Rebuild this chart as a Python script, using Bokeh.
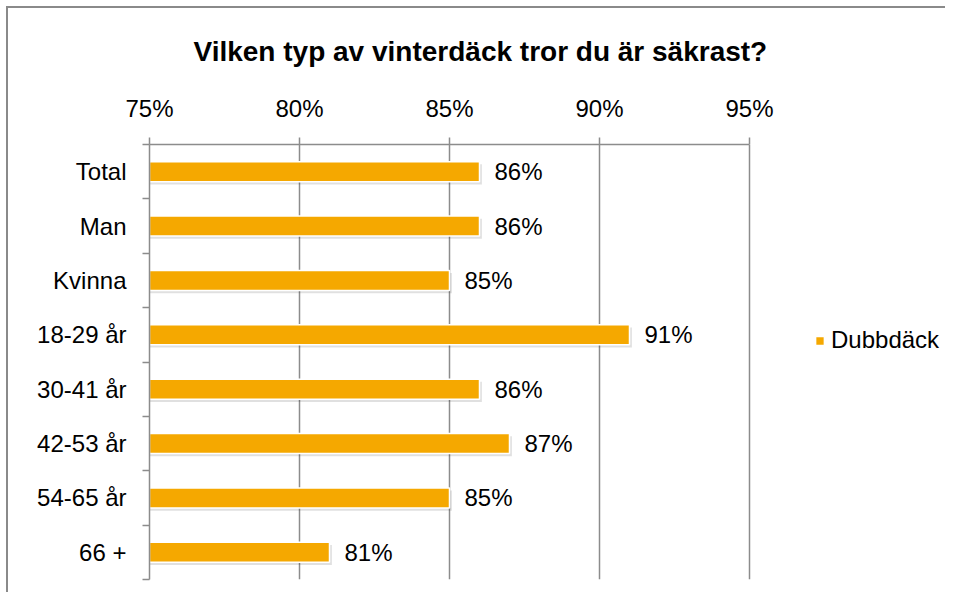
from bokeh.plotting import figure
from bokeh.models import (Range1d, FixedTicker, ColumnDataSource, Legend, LegendItem, Title)
from bokeh.core.properties import value
from bokeh.embed import file_html
from bokeh.resources import INLINE

title_text = "Vilken typ av vinterdäck tror du är säkrast?"
categories = ["Total", "Man", "Kvinna", "18-29 år", "30-41 år", "42-53 år", "54-65 år", "66 +"]
values = [86, 86, 85, 91, 86, 87, 85, 81]
x_ticks = [75, 80, 85, 90, 95]
x_tick_labels = ["75%", "80%", "85%", "90%", "95%"]
series_name = "Dubbdäck"

FONT = "Liberation Sans"
ORANGE = "#F5A800"
GRAY = "#8c8c8c"

W, H = 939, 586
ML, MT, MB = 141, 135, 15
AXIS_PX = 600  # width of the 75%-95% scale in pixels
frame_w = W - ML
x_end = x_ticks[-1] + (frame_w - AXIS_PX) * (x_ticks[-1] - x_ticks[0]) / AXIS_PX

centers = [i + 0.5 for i in range(len(categories))]
bounds = [float(i) for i in range(len(categories) + 1)]

src = ColumnDataSource(dict(
    y=centers,
    v=values,
    lbl=[f"{v}%" for v in values],
    sy=[c + 0.05 for c in centers],
    sv=[v + 0.08 for v in values],
))

t = Title(text=title_text, align="left", text_font=FONT, text_font_size="28px",
          text_font_style="bold", text_color="black", offset=44, standoff=50)

p = figure(width=W, height=H, output_backend="svg", toolbar_location=None, title=t,
           x_range=Range1d(x_ticks[0], x_end), y_range=Range1d(len(categories), 0),
           x_axis_location="above", min_border_left=ML, min_border_right=0,
           min_border_top=MT, min_border_bottom=MB)
p.styles = {"border-top": "2px solid #8a8a8a", "border-left": "2px solid #8a8a8a",
            "border-right": "none", "border-bottom": "none",
            "margin-left": "6px", "margin-top": "6px"}
p.outline_line_color = None
p.background_fill_color = "white"
p.border_fill_color = "white"

# grid
p.xgrid.ticker = FixedTicker(ticks=x_ticks)
p.xgrid.grid_line_color = GRAY
p.xgrid.grid_line_width = 1.5
p.ygrid.grid_line_color = None

# top axis
xa = p.xaxis[0]
xa.ticker = FixedTicker(ticks=x_ticks)
xa.bounds = (x_ticks[0], x_ticks[-1])
xa.major_label_overrides = {t_: l for t_, l in zip(x_ticks, x_tick_labels)}
xa.major_label_text_font = FONT
xa.major_label_text_font_size = "24px"
xa.major_label_text_color = "black"
xa.axis_line_color = GRAY
xa.axis_line_width = 1.5
xa.major_tick_line_color = GRAY
xa.major_tick_line_width = 1.5
xa.major_tick_out = 7
xa.major_tick_in = 0
xa.minor_tick_line_color = None
xa.major_label_standoff = 16

# left axis
ya = p.yaxis[0]
ya.ticker = FixedTicker(ticks=centers, minor_ticks=bounds)
ya.major_label_overrides = {c: n for c, n in zip(centers, categories)}
ya.major_label_text_font = FONT
ya.major_label_text_font_size = "24px"
ya.major_label_text_color = "black"
ya.axis_line_color = GRAY
ya.axis_line_width = 1.5
ya.major_tick_line_color = None
ya.major_tick_out = 0
ya.major_tick_in = 0
ya.minor_tick_line_color = GRAY
ya.minor_tick_line_width = 1.5
ya.minor_tick_out = 7
ya.minor_tick_in = 0
ya.major_label_standoff = 16

# shadow
p.hbar(y="sy", right="sv", left=x_ticks[0], height=0.37, source=src,
       fill_color="#000000", fill_alpha=0.12, line_color=None)
# bars
bars = p.hbar(y="y", right="v", left=x_ticks[0], height=0.37, source=src,
              fill_color=ORANGE, line_color="white", line_width=1.5)

p.text(x="v", y="y", text="lbl", source=src, x_offset=15,
       text_font=value(FONT), text_font_size="24px", text_color="black",
       text_align="left", text_baseline="middle")

legend = Legend(items=[LegendItem(label=series_name, renderers=[bars])],
                location=(665, 225), orientation="vertical",
                label_text_font=FONT, label_text_font_size="24px", label_text_color="black",
                glyph_width=11, glyph_height=11, label_standoff=6, padding=0, margin=0,
                border_line_color=None, background_fill_alpha=0)
p.add_layout(legend, "center")

open("out.html", "w").write(file_html(p, INLINE))
